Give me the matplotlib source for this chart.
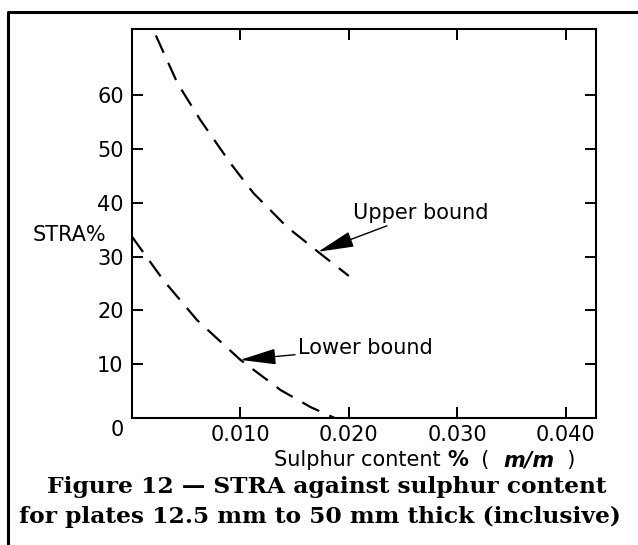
import matplotlib.pyplot as plt
from matplotlib.lines import Line2D
from matplotlib.offsetbox import TextArea, HPacker, AnchoredOffsetbox
from matplotlib.transforms import ScaledTranslation

# sulphur content (% m/m) and STRA (%) read along each bound
upper_s = [0.0022, 0.0042, 0.0063, 0.0091, 0.0112, 0.0143, 0.0174, 0.0200]
upper_stra = [71.1, 62.2, 55.4, 47.3, 41.8, 35.5, 30.5, 26.4]
lower_s = [0.0000, 0.0029, 0.0060, 0.0100, 0.0137, 0.0165, 0.0187]
lower_stra = [33.7, 25.6, 18.2, 10.8, 5.2, 2.0, 0.0]

xticks = [0.010, 0.020, 0.030, 0.040]
xtick_labels = ["0.010", "0.020", "0.030", "0.040"]
yticks = [0, 10, 20, 30, 40, 50, 60]
ytick_labels = ["0", "10", "20", "30", "40", "50", "60"]

plt.rcParams["font.family"] = "DejaVu Sans"

W, H = 638, 545
fig = plt.figure(figsize=(W / 100, H / 100), dpi=100)
ax = fig.add_axes([132 / W, 1 - 418 / H, 464 / W, 389 / H])

dash = (0, (8.5, 5.0))
ax.plot(upper_s, upper_stra, color="black", lw=1.6, linestyle=dash)
ax.plot(lower_s, lower_stra, color="black", lw=1.6, linestyle=dash)

ax.set_xlim(0, 0.0428)
ax.set_ylim(0, 72.3)
ax.set_xticks(xticks, xtick_labels)
ax.set_yticks(yticks, ytick_labels)
ax.tick_params(direction="in", length=8, width=1.4, labelsize=15,
               top=True, right=True, pad=5)
ax.tick_params(axis="y", pad=6)
for sp in ax.spines.values():
    sp.set_linewidth(1.5)

# the y "0" sits a little below its tick
lbl0 = ax.get_yticklabels()[0]
lbl0.set_transform(lbl0.get_transform() + ScaledTranslation(0, -7 / 72, fig.dpi_scale_trans))

ax.text(-0.0058, 34, "STRA%", fontsize=15, ha="center", va="center")

arrow = dict(arrowstyle="-|>,head_length=1.5,head_width=0.33", color="black",
             lw=1.0, shrinkA=0, shrinkB=0)
ax.annotate("Upper bound", xy=(0.01717, 30.9), xytext=(0.0204, 38.1),
            fontsize=15, va="center", ha="left", arrowprops=arrow)
ax.annotate("Lower bound", xy=(0.00997, 10.8), xytext=(0.0153, 13.0),
            fontsize=15, va="center", ha="left", arrowprops=arrow)

# x label with bold % and bold italic m/m
parts = [
    TextArea("Sulphur content ", textprops=dict(fontsize=15)),
    TextArea("%", textprops=dict(fontsize=15, fontweight="bold")),
    TextArea("  (  ", textprops=dict(fontsize=15)),
    TextArea("m/m", textprops=dict(fontsize=15, fontweight="bold", style="italic")),
    TextArea("  )", textprops=dict(fontsize=15)),
]
xlab = HPacker(children=parts, align="baseline", pad=0, sep=0)
box = AnchoredOffsetbox(loc="center", child=xlab, frameon=False, pad=0, borderpad=0,
                        bbox_to_anchor=(425 / W, 1 - 460 / H),
                        bbox_transform=fig.transFigure)
fig.add_artist(box)

cap = dict(fontsize=16.8, fontweight="bold", family="DejaVu Serif", ha="center", va="center")
fig.text(327 / W, 1 - 487 / H, "Figure 12 — STRA against sulphur content", **cap)
fig.text(320 / W, 1 - 517 / H, "for plates 12.5 mm to 50 mm thick (inclusive)", **cap)

# frame lines along top and left
fig.add_artist(Line2D([8 / W, 8 / W, 1], [0, 1 - 12 / H, 1 - 12 / H],
                      transform=fig.transFigure, color="black", lw=2.2))

fig.savefig("out.png", dpi=100)
